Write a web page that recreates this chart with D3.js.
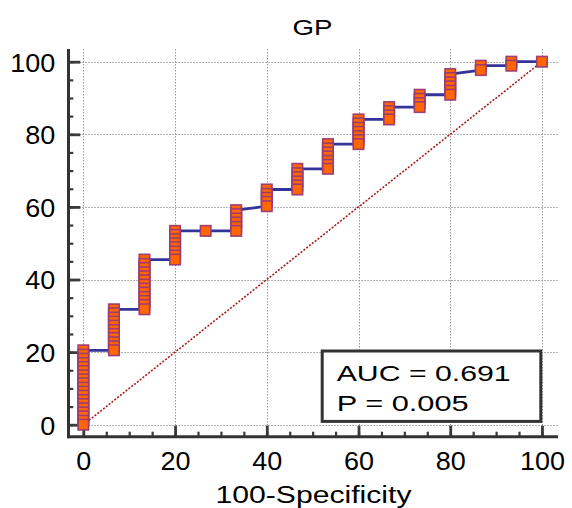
<!DOCTYPE html>
<html>
<head>
<meta charset="utf-8">
<script src="https://cdn.jsdelivr.net/npm/d3@7"></script>
<style>
  html, body { margin: 0; padding: 0; background: #fff; }
  svg { display: block; }
  text { font-family: "Liberation Sans", Arial, Helvetica, sans-serif; fill: #000; }
</style>
</head>
<body>
<svg id="chart" width="572" height="508"></svg>
<script>
// ---- data ----
const chartTitle = "GP";
const xLabel = "100-Specificity";
const aucText = "AUC = 0.691";
const pText = "P = 0.005";

// 100-Specificity levels (15 negatives)
const fprLevels = [0, 6.67, 13.33, 20, 26.67, 33.33, 40, 46.67, 53.33, 60, 66.67, 73.33, 80, 86.67, 93.33, 100];
// Sensitivity values of the ROC points at each level
const tprAtLevel = [
  [0, 1.1, 2.3, 3.4, 4.5, 5.7, 6.8, 8.0, 9.1, 10.2, 11.4, 12.5, 13.6, 14.8, 15.9, 17.0, 18.2, 19.3, 20.5],
  [20.5, 21.6, 22.7, 23.9, 25.0, 26.1, 27.3, 28.4, 29.5, 30.7, 31.8],
  [31.8, 33.0, 34.1, 35.2, 36.4, 37.5, 38.6, 39.8, 40.9, 42.0, 43.2, 44.3, 45.5],
  [45.5, 46.6, 47.7, 48.9, 50.0, 51.1, 52.3, 53.4],
  [53.4],
  [53.4, 54.5, 55.7, 56.8, 58.0, 59.1],
  [60.2, 61.4, 62.5, 63.6, 64.8],
  [64.8, 65.9, 67.0, 68.2, 69.3, 70.5],
  [70.5, 71.6, 72.7, 73.9, 75.0, 76.1, 77.3],
  [77.3, 78.4, 79.5, 80.7, 81.8, 83.0, 84.1],
  [84.1, 85.2, 86.4, 87.5],
  [87.5, 88.6, 89.8, 90.9],
  [90.9, 92.0, 93.2, 94.3, 95.5, 96.6],
  [97.7, 98.9],
  [98.9, 100],
  [100]
];

const xTicks = [0, 20, 40, 60, 80, 100];
const yTicks = [0, 20, 40, 60, 80, 100];
const minorTicks = [0, 5, 10, 15, 20, 25, 30, 35, 40, 45, 50, 55, 60, 65, 70, 75, 80, 85, 90, 95, 100];
const diagonal = [[0, 0], [100, 100]];

// ---- layout ----
const svg = d3.select("#chart");
const pLeft = 67.3, pRight = 558, pTop = 49, pBottom = 436.7;
const x = d3.scaleLinear().domain([-3.5, 103.5]).range([pLeft, pRight]);
const y = d3.scaleLinear().domain([-3.3, 103.5]).range([pBottom, pTop]);

const points = [];
fprLevels.forEach((f, i) => tprAtLevel[i].forEach(t => points.push([f, t])));

// grid
const grid = svg.append("g").attr("stroke", "#9a9a9a").attr("stroke-width", 1).attr("stroke-dasharray", "1.5,1.5");
grid.selectAll(".gh").data(yTicks).join("line")
  .attr("x1", pLeft).attr("x2", pRight)
  .attr("y1", d => Math.round(y(d)) + 0.5).attr("y2", d => Math.round(y(d)) + 0.5);
grid.selectAll(".gv").data(xTicks).join("line")
  .attr("y1", pTop).attr("y2", pBottom)
  .attr("x1", d => Math.round(x(d)) + 0.5).attr("x2", d => Math.round(x(d)) + 0.5);

// axes
const tickW = t => String(t).length * 15;
const xMinor = svg.append("g").attr("transform", `translate(0,${pBottom})`)
  .call(d3.axisBottom(x).tickValues(minorTicks).tickSize(-5).tickFormat(""));
const xMajor = svg.append("g").attr("transform", `translate(0,${pBottom})`)
  .call(d3.axisBottom(x).tickValues(xTicks).tickSize(-11).tickPadding(0));
const yMinor = svg.append("g").attr("transform", `translate(${pLeft},0)`)
  .call(d3.axisLeft(y).tickValues(minorTicks).tickSize(-6).tickFormat(""));
const yMajor = svg.append("g").attr("transform", `translate(${pLeft},0)`)
  .call(d3.axisLeft(y).tickValues(yTicks).tickSize(-13).tickPadding(12));

[xMinor, xMajor, yMinor, yMajor].forEach(g => {
  g.select(".domain").remove();
  g.selectAll(".tick line").attr("stroke", "#3a3a3a").attr("stroke-width", 2.2);
});
[xMajor, yMajor].forEach(g => g.selectAll(".tick line").attr("stroke-width", 2.8));

xMajor.selectAll(".tick text")
  .attr("y", 33.5).attr("dy", null)
  .attr("font-size", 26)
  .attr("textLength", d => tickW(d)).attr("lengthAdjust", "spacingAndGlyphs");
yMajor.selectAll(".tick text")
  .attr("dy", "0.36em")
  .attr("font-size", 26)
  .attr("textLength", d => tickW(d)).attr("lengthAdjust", "spacingAndGlyphs");

// spines
svg.append("line").attr("x1", pLeft + 1.2).attr("x2", pLeft + 1.2).attr("y1", pTop).attr("y2", pBottom + 1.5)
  .attr("stroke", "#333").attr("stroke-width", 3);
svg.append("line").attr("x1", pLeft).attr("x2", pRight).attr("y1", pBottom).attr("y2", pBottom)
  .attr("stroke", "#333").attr("stroke-width", 3);

// diagonal reference line
svg.append("path").datum(diagonal)
  .attr("d", d3.line().x(d => x(d[0])).y(d => y(d[1])))
  .attr("fill", "none").attr("stroke", "#a51c1c").attr("stroke-width", 1.6)
  .attr("stroke-dasharray", "2,1.6");

// ROC curve
svg.append("path").datum(points)
  .attr("d", d3.line().x(d => x(d[0])).y(d => y(d[1])))
  .attr("fill", "none").attr("stroke", "#333399").attr("stroke-width", 2.8)
  .attr("stroke-linejoin", "round");

// markers (drawn from the top so lower points sit on top)
const ms = 10.5;
svg.append("g").selectAll("rect").data(points.slice().reverse()).join("rect")
  .attr("x", d => x(d[0]) - ms / 2).attr("y", d => y(d[1]) - ms / 2)
  .attr("width", ms).attr("height", ms)
  .attr("fill", "#ff6600").attr("stroke", "#9b3a73").attr("stroke-width", 1.6)
  .attr("stroke-opacity", 0.95);

// AUC box
svg.append("rect").attr("x", 322.2).attr("y", 351).attr("width", 218.6).attr("height", 70.4)
  .attr("fill", "#fff").attr("stroke", "#333").attr("stroke-width", 3);
svg.append("text").attr("x", 336.7).attr("y", 381).attr("font-size", 22)
  .attr("textLength", 174).attr("lengthAdjust", "spacingAndGlyphs").text(aucText);
svg.append("text").attr("x", 336.7).attr("y", 411).attr("font-size", 22)
  .attr("textLength", 132).attr("lengthAdjust", "spacingAndGlyphs").text(pText);

// titles
svg.append("text").attr("x", 312.5).attr("y", 35).attr("text-anchor", "middle").attr("font-size", 22)
  .attr("textLength", 40).attr("lengthAdjust", "spacingAndGlyphs").text(chartTitle);
svg.append("text").attr("x", 313.5).attr("y", 503).attr("text-anchor", "middle").attr("font-size", 23)
  .attr("textLength", 196).attr("lengthAdjust", "spacingAndGlyphs").text(xLabel);
</script>
</body>
</html>
